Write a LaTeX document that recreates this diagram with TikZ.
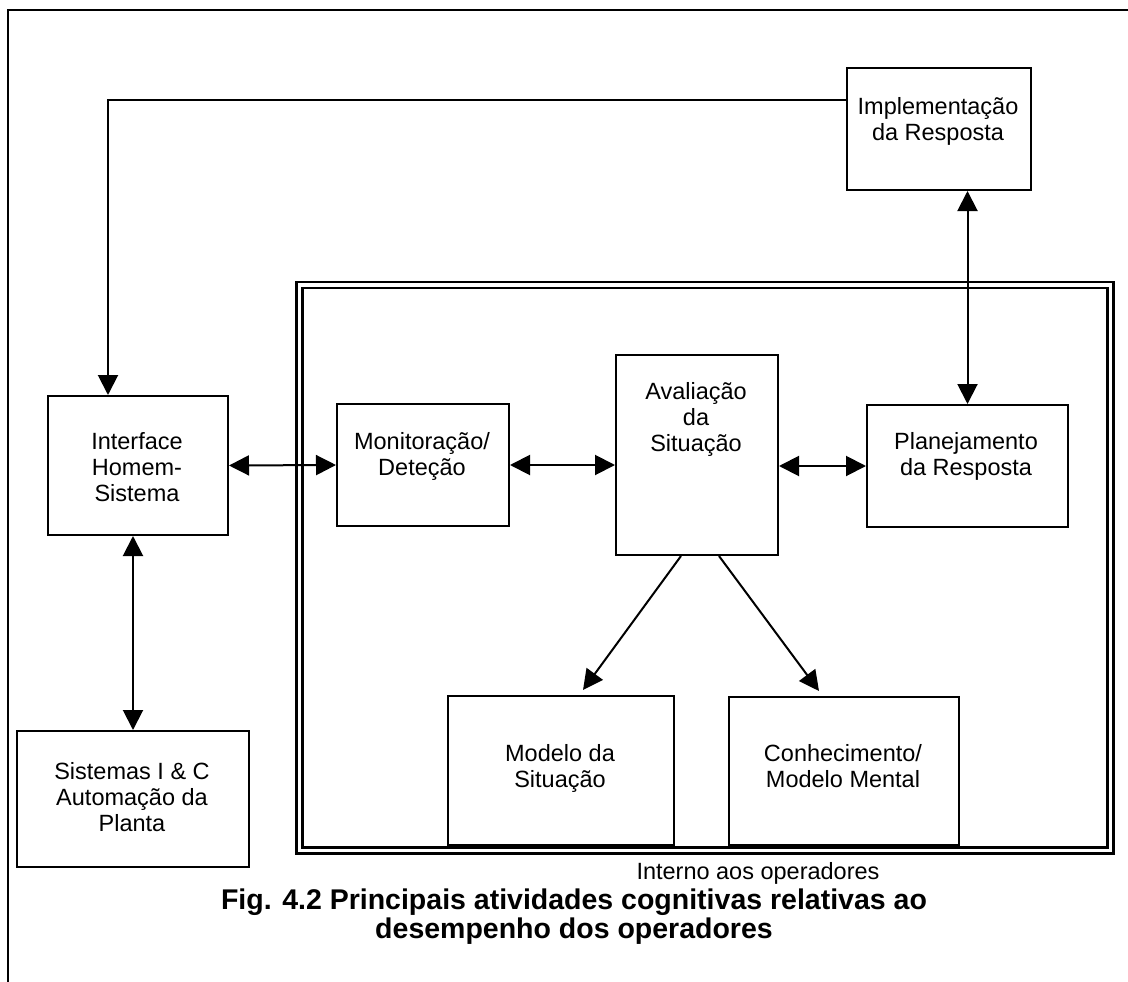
\documentclass[tikz,border=0pt]{standalone}
\usepackage{fontspec}
\setmainfont{Liberation Sans}
\usetikzlibrary{arrows.meta}
\begin{document}
\begin{tikzpicture}[x=1pt,y=-1pt,
  box/.style={draw,line width=2pt,inner sep=0pt,anchor=north west},
  txt/.style={align=center,font=\fontsize{23.5}{26}\selectfont,inner sep=0pt,anchor=north},
  captxt/.style={align=center,font=\bfseries\fontsize{28.5}{29}\selectfont,inner sep=0pt,anchor=north},
  link/.style={line width=2pt},
  tip/.style={-{Triangle[length=20pt,width=20pt]}},
  tips/.style={{Triangle[length=20pt,width=20pt]}-{Triangle[length=20pt,width=20pt]}}
]
\useasboundingbox (0,0) rectangle (1128,982);
% outer frame (partially visible)
\draw[line width=2.5pt] (8,982) -- (8,10) -- (1128,10);
% double frame
\node[draw,line width=2.5pt,double,double distance=3.5pt,inner sep=0pt,anchor=north west,
      minimum width=811pt,minimum height=565.5pt] (frame) at (298,283.5) {};
% boxes
\node[box,minimum width=184pt,minimum height=122pt] (impl) at (846,67) {};
\node[box,minimum width=180pt,minimum height=139pt] (iface) at (47,395) {};
\node[box,minimum width=172pt,minimum height=122pt] (mon) at (336,403) {};
\node[box,minimum width=162pt,minimum height=200pt] (aval) at (615,354) {};
\node[box,minimum width=201pt,minimum height=122pt] (plan) at (866,404) {};
\node[box,minimum width=226pt,minimum height=149pt] (modelo) at (447,695) {};
\node[box,minimum width=230pt,minimum height=148pt] (conh) at (728,696) {};
\node[box,minimum width=232pt,minimum height=136pt] (sist) at (16,730) {};
% texts
\node[txt] (impltxt) at (938,97) {Implementação\\da Resposta};
\node[txt] (ifacetxt) at (137,432) {Interface\\Homem-\\Sistema};
\node[txt] (montxt) at (422,432) {Monitoração/\\Deteção};
\node[txt] (avaltxt) at (696,382) {Avaliação\\da\\Situação};
\node[txt] (plantxt) at (966,432) {Planejamento\\da Resposta};
\node[txt] (modelotxt) at (560,744) {Modelo da\\Situação};
\node[txt] (conhtxt) at (843,744) {Conhecimento/\\Modelo Mental};
\node[txt] (sisttxt) at (132,762) {Sistemas I \& C\\Automação da\\Planta};
\node[txt] (interno) at (758,862) {Interno aos operadores};
\node[captxt] (caption) at (574,889) {Fig. 4.2 Principais atividades cognitivas relativas ao\\desempenho dos operadores};
% connectors
\coordinate (c1) at (108,100);
\draw[link,tip] (impl.west |- c1) -- (c1) -- (c1 |- iface.north);
\draw[link,tips] (plan.north |- impl.south) -- (plan.north);
\draw[link,tips] (iface.east) -- (mon.west);
\draw[link,tips] (mon.east) -- (aval.west |- mon.east);
\draw[link,tips] (aval.east |- plan.west) -- (plan.west);
\draw[link,tips] (sist.north |- iface.south) -- (sist.north);
\draw[link,tip] ([xshift=-16pt]aval.south) -- ([xshift=22pt,yshift=5pt]modelo.north);
\draw[link,tip] ([xshift=22pt]aval.south) -- ([xshift=-25pt,yshift=5pt]conh.north);
\end{tikzpicture}
\end{document}
